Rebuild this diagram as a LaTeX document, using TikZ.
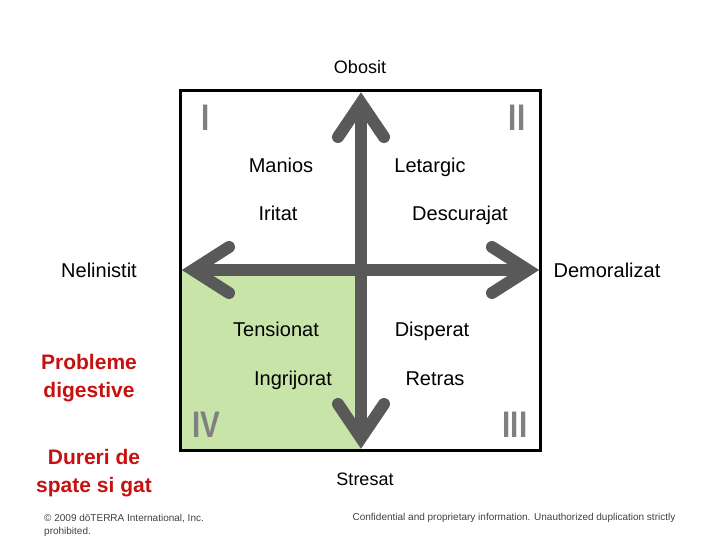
\documentclass[tikz,border=0pt]{standalone}
\usepackage{fontspec}
\setmainfont{Liberation Sans}
\definecolor{arrowgray}{RGB}{89,89,89}
\definecolor{numgray}{RGB}{128,128,128}
\definecolor{quadgreen}{RGB}{201,228,168}
\definecolor{redtext}{RGB}{200,16,16}
\definecolor{smallgray}{RGB}{64,64,64}
\begin{document}
\begin{tikzpicture}[x=1pt,y=-1pt,
  lbl/.style={anchor=base,inner sep=0pt,font=\fontsize{20}{24}\selectfont},
  numlbl/.style={anchor=base,inner sep=0pt,text=numgray,font=\fontsize{37}{40}\selectfont\bfseries},
  redlbl/.style={anchor=base,inner sep=0pt,text=redtext,align=center,font=\fontsize{21}{28}\selectfont\bfseries},
  smalllbl/.style={inner sep=0pt,text=smallgray,font=\fontsize{10}{13}\selectfont},
  shaft/.style={draw=arrowgray,line width=12pt,line cap=butt},
  chevron/.style={draw=arrowgray,line width=12pt,line cap=round,line join=miter}]
\useasboundingbox (0,0) rectangle (720,540);
% green quadrant
\fill[quadgreen] (180,270) rectangle (361,450);
% frame
\draw[line width=3pt] (180,91) rectangle (540,450);
% axis points
\coordinate (vL) at (193,270);
\coordinate (vR) at (528,270);
\coordinate (vT) at (361,103);
\coordinate (vB) at (361,438);
\coordinate (aL1) at (229,247); \coordinate (aL2) at (229,293);
\coordinate (aR1) at (492,247); \coordinate (aR2) at (492,293);
\coordinate (aT1) at (338,137); \coordinate (aT2) at (384,137);
\coordinate (aB1) at (338,404); \coordinate (aB2) at (384,404);
\draw[shaft] (vL) -- (vR);
\draw[shaft] (vT) -- (vB);
\draw[chevron] (aL1) -- (vL) -- (aL2);
\draw[chevron] (aR1) -- (vR) -- (aR2);
\draw[chevron] (aT1) -- (vT) -- (aT2);
\draw[chevron] (aB1) -- (vB) -- (aB2);
% labels
\node[lbl,font=\fontsize{18}{22}\selectfont] (obosit) at (360,74) {Obosit};
\node[lbl,font=\fontsize{18}{22}\selectfont] (stresat) at (365,485) {Stresat};
\node[lbl] (manios) at (281,173) {Manios};
\node[lbl] (letargic) at (430,173) {Letargic};
\node[lbl] (iritat) at (278,221) {Iritat};
\node[lbl] (descurajat) at (460,221) {Descurajat};
\node[lbl] (nelinistit) at (99,277) {Nelinistit};
\node[lbl] (demoralizat) at (607,277) {Demoralizat};
\node[lbl] (tensionat) at (276,336) {Tensionat};
\node[lbl] (disperat) at (432,336) {Disperat};
\node[lbl] (ingrijorat) at (293,385) {Ingrijorat};
\node[lbl] (retras) at (435,385) {Retras};
\node[numlbl] (n1) at (206,131) {\scalebox{0.8}[1]{I}};
\node[numlbl] (n2) at (517,131) {\scalebox{0.8}[1]{II}};
\node[numlbl] (n4) at (206,437) {\scalebox{0.8}[1]{IV}};
\node[numlbl] (n3) at (515,437) {\scalebox{0.8}[1]{III}};
\node[redlbl] (prob) at (89,397) {Probleme\\digestive};
\node[redlbl] (dureri) at (94,492) {Dureri de\\spate si gat};
\node[smalllbl,anchor=west,align=left] (copy) at (44,525) {© 2009 dōTERRA International, Inc.\\prohibited.};
\node[smalllbl] (conf) at (514,518) {Confidential and proprietary information. Unauthorized duplication strictly};
\end{tikzpicture}
\end{document}
